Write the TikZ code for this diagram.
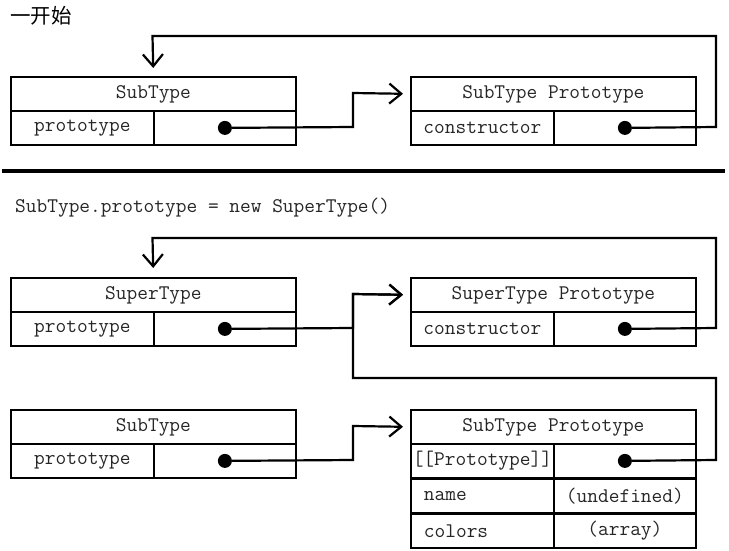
\documentclass[tikz,border=0pt]{standalone}
\usepackage{fontspec}
\newfontfamily\cjk{Noto Sans CJK SC}
\usetikzlibrary{arrows.meta}
\newcommand\monotext{\ttfamily\fontsize{20.8}{22}\selectfont}
\begin{document}
\begin{tikzpicture}[x=1pt,y=-1pt,
  cell/.style={draw, line width=1.8pt, inner sep=0pt, anchor=north west, minimum height=34pt, font=\monotext, text=black!85},
  wide/.style={cell, minimum width=285pt},
  lcell/.style={cell, minimum width=143pt},
  rcell/.style={cell, minimum width=142pt},
  leftcell/.style={cell, text width=117pt, inner xsep=13pt, align=left},
  dot/.style={circle, fill, inner sep=0pt, minimum size=14pt},
  conn/.style={line width=2.2pt},
  arr/.style={conn, -{Straight Barb[length=12pt,width=20pt,line width=2.2pt]}},
]
\useasboundingbox (0,0) rectangle (729,551);

% ---------- first part ----------
\node[anchor=west, font=\cjk\fontsize{20.5}{22}\selectfont, inner sep=0pt] (title) at (10,16) {一开始};

\node[wide]  (h1) at (10,76)  {SubType};
\node[lcell] (l1) at (10,110) {prototype};
\node[rcell] (r1) at (153,110) {};
\node[dot]   (d1) at (r1.center) {};

\node[wide]  (h2) at (410,76)  {SubType Prototype};
\node[lcell] (l2) at (410,110) {constructor};
\node[rcell] (r2) at (553,110) {};
\node[dot]   (d2) at (r2.center) {};

\draw[arr, shorten >=8pt] (d2) -- (716,127) -- (716,36) -- (152.5,36) -- (h1.north);
\draw[arr, shorten >=7pt] (d1) -- (353,127) -- (353,93) -- (h2.west);

% separator
\draw[line width=3.5pt] (2,171) -- (725,171);

% ---------- second part ----------
\node[anchor=west, inner sep=0pt, font=\monotext, text=black!85] (code) at (15,208) {SubType.prototype = new SuperType()};

\node[wide]  (h3) at (10,277)  {SuperType};
\node[lcell] (l3) at (10,311)  {prototype};
\node[rcell] (r3) at (153,311) {};
\node[dot]   (d3) at (r3.center) {};

\node[wide]  (h4) at (410,277) {SuperType Prototype};
\node[lcell] (l4) at (410,311) {constructor};
\node[rcell] (r4) at (553,311) {};
\node[dot]   (d4) at (r4.center) {};

\node[wide]  (h5) at (10,409)  {SubType};
\node[lcell] (l5) at (10,443)  {prototype};
\node[rcell] (r5) at (153,443) {};
\node[dot]   (d5) at (r5.center) {};

\node[wide]  (h6) at (410,409) {SubType Prototype};
\node[lcell] (l6) at (410,443) {[[Prototype]]};
\node[rcell] (r6) at (553,443) {};
\node[dot]   (d6) at (r6.center) {};
\node[leftcell] (l7) at (410,478) {name};
\node[rcell]    (r7) at (553,478) {(undefined)};
\node[leftcell] (l8) at (410,513) {colors};
\node[rcell]    (r8) at (553,513) {(array)};

\draw[arr, shorten >=9pt] (d4) -- (716,328) -- (716,238) -- (152.5,238) -- (h3.north);
\draw[arr, shorten >=7pt] (d3) -- (353,328) -- (353,294) -- (h4.west);
\draw[arr, shorten >=7pt] (d6) -- (716,460) -- (716,378) -- (353,378) -- (353,294) -- (h4.west);
\draw[arr, shorten >=7pt] (d5) -- (353,460) -- (353,426) -- (h6.west);
\end{tikzpicture}
\end{document}
